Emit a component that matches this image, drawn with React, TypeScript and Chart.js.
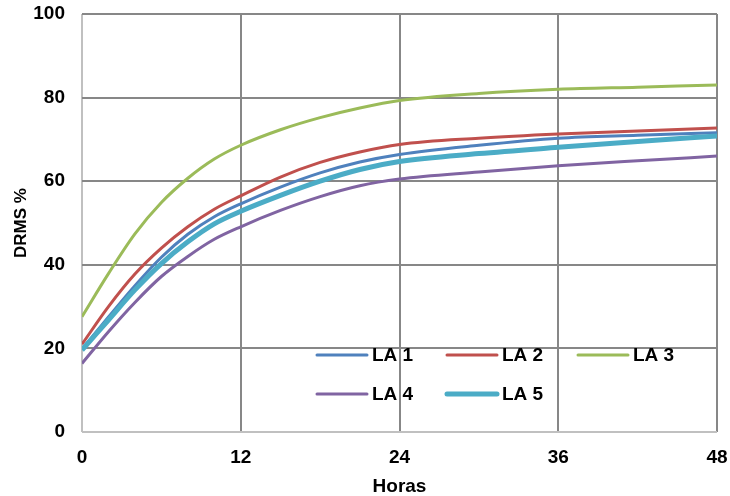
import React, { useEffect, useRef } from "react";
import { Chart, registerables } from "chart.js";

Chart.register(...registerables);

const hours = [0, 2, 4, 6, 8, 10, 12, 15, 18, 21, 24, 30, 36, 42, 48];
const la1 = [19.8, 27.5, 35, 41.8, 47.3, 51.5, 54.6, 58.6, 62, 64.6, 66.4, 68.6, 70.3, 71, 71.6];
const la2 = [21, 30, 37.8, 44, 49.1, 53.3, 56.5, 61, 64.5, 67, 68.8, 70.3, 71.3, 72, 72.7];
const la3 = [27.6, 37.9, 47.4, 54.9, 60.7, 65.3, 68.6, 72.3, 75.2, 77.5, 79.3, 81, 82, 82.5, 83];
const la4 = [16.4, 24, 31, 37.2, 42, 46.1, 49.1, 53, 56.3, 58.9, 60.5, 62.2, 63.7, 64.9, 66];
const la5 = [19.6, 26.8, 34, 40.3, 45.5, 49.8, 52.8, 56.6, 60, 62.8, 64.7, 66.6, 68.1, 69.5, 70.8];

const seriesNames = ["LA 1", "LA 2", "LA 3", "LA 4", "LA 5"];
const seriesValues = [la1, la2, la3, la4, la5];
const seriesColors = ["#4F81BD", "#C0504D", "#9BBB59", "#8064A2", "#4BACC6"];
const seriesWidths = [3, 3, 3, 3, 5];

const xTicks = { min: 0, max: 48, step: 12 };
const yTicks = { min: 0, max: 100, step: 20 };
const xTitle = "Horas";
const yTitle = "DRMS %";

const FONT = "'Liberation Sans', Arial, sans-serif";

const legendPlugin = {
  id: "insideLegend",
  afterDatasetsDraw(chart: any) {
    const ctx = chart.ctx;
    const ca = chart.chartArea;
    const cols = [ca.left + 235, ca.left + 365, ca.left + 496];
    const rows = [ca.bottom - 77, ca.bottom - 38];
    const lineLen = 50;
    ctx.save();
    ctx.font = `bold 19px ${FONT}`;
    ctx.textBaseline = "middle";
    ctx.textAlign = "left";
    seriesNames.forEach((name, i) => {
      const r = Math.floor(i / 3);
      const c = i % 3;
      const x = cols[c];
      const y = rows[r];
      ctx.strokeStyle = seriesColors[i];
      ctx.lineWidth = seriesWidths[i];
      ctx.lineCap = "round";
      ctx.beginPath();
      ctx.moveTo(x, y);
      ctx.lineTo(x + lineLen, y);
      ctx.stroke();
      ctx.fillStyle = "#000";
      ctx.fillText(name, x + lineLen + 5, y + 1);
    });
    ctx.restore();
  },
};

export default function App() {
  const ref = useRef<HTMLCanvasElement | null>(null);
  useEffect(() => {
    if (!ref.current) return;
    const chart = new Chart(ref.current, {
      type: "line",
      data: {
        datasets: seriesNames.map((name, i) => ({
          label: name,
          data: hours.map((h, j) => ({ x: h, y: seriesValues[i][j] })),
          borderColor: seriesColors[i],
          backgroundColor: seriesColors[i],
          borderWidth: seriesWidths[i],
          pointRadius: 0,
          cubicInterpolationMode: "monotone" as const,
          fill: false,
          order: i === 4 ? -1 : i,
        })),
      },
      options: {
        animation: false,
        responsive: false,
        maintainAspectRatio: false,
        layout: { padding: { left: 0, top: 14, right: 13, bottom: 0 } },
        plugins: {
          legend: { display: false },
          tooltip: { enabled: false },
        },
        scales: {
          x: {
            type: "linear",
            min: xTicks.min,
            max: xTicks.max,
            border: { display: false },
            grid: {
              drawTicks: false,
              lineWidth: 2,
              color: (c: any) => (c.tick && c.tick.value === 0 ? "#c0c0c0" : "#878787"),
            },
            ticks: {
              stepSize: xTicks.step,
              padding: 14,
              color: "#000",
              font: { family: FONT, size: 19, weight: "bold" },
            },
            title: {
              display: true,
              text: xTitle,
              color: "#000",
              font: { family: FONT, size: 19, weight: "bold", lineHeight: 1 },
              padding: { top: 0, bottom: 0 },
            },
            afterFit: (s: any) => {
              s.height = 64;
              s.paddingLeft = 0;
              s.paddingRight = 0;
              s.paddingTop = 0;
              s.paddingBottom = 0;
            },
          },
          y: {
            min: yTicks.min,
            max: yTicks.max,
            border: { display: false },
            grid: {
              drawTicks: false,
              lineWidth: 2,
              color: (c: any) => (c.tick && c.tick.value === 0 ? "#c0c0c0" : "#878787"),
            },
            ticks: {
              stepSize: yTicks.step,
              padding: 17,
              color: "#000",
              font: { family: FONT, size: 19, weight: "bold" },
            },
            title: {
              display: true,
              text: yTitle,
              color: "#000",
              font: { family: FONT, size: 17, weight: "bold", lineHeight: 1 },
              padding: { top: 13, bottom: 0 },
            },
            afterFit: (s: any) => {
              s.width = 82;
              s.paddingLeft = 0;
              s.paddingRight = 0;
              s.paddingTop = 0;
              s.paddingBottom = 0;
            },
          },
        },
      },
      plugins: [legendPlugin],
    } as any);
    return () => chart.destroy();
  }, []);
  return (
    <div style={{ position: "fixed", left: 0, top: 0, width: 730, height: 496, background: "#fff" }}>
      <canvas ref={ref} width={730} height={496} style={{ width: 730, height: 496 }} />
    </div>
  );
}
